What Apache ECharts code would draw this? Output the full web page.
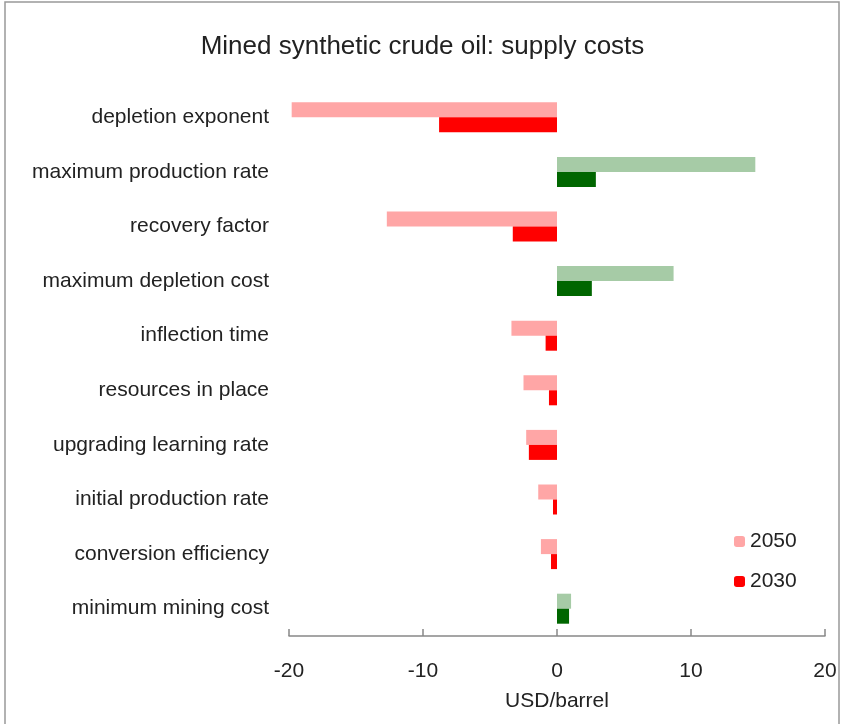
<!DOCTYPE html>
<html>
<head>
<meta charset="utf-8">
<script src="https://cdn.jsdelivr.net/npm/echarts@6/dist/echarts.min.js"></script>
<style>
  html, body { margin: 0; padding: 0; background: #fff; }
  #chart { width: 845px; height: 724px; }
</style>
</head>
<body>
<div id="chart"></div>
<script>
const categories = [
  'depletion exponent',
  'maximum production rate',
  'recovery factor',
  'maximum depletion cost',
  'inflection time',
  'resources in place',
  'upgrading learning rate',
  'initial production rate',
  'conversion efficiency',
  'minimum mining cost'
]
const values2050 = [-19.8, 14.8, -12.7, 8.7, -3.4, -2.5, -2.3, -1.4, -1.2, 1.05]
const values2030 = [-8.8, 2.9, -3.3, 2.6, -0.85, -0.6, -2.1, -0.3, -0.45, 0.9]
const xTicks = [-20, -10, 0, 10, 20]

const colors = {
  neg2050: '#ffa6a6',
  neg2030: '#ff0000',
  pos2050: '#a6cba6',
  pos2030: '#006600',
}

const font = 'Liberation Sans, Arial, sans-serif'

const toData = (vals, neg, pos) => vals.map(v => ({
  value: v,
  itemStyle: { color: v < 0 ? neg : pos },
}))

const chart = echarts.init(document.getElementById('chart'))
chart.setOption({
  animation: false,
  textStyle: { fontFamily: font },
  title: {
    text: 'Mined synthetic crude oil: supply costs',
    left: 'center',
    top: 29,
    textStyle: { fontFamily: font, fontSize: 26, fontWeight: 'normal', color: '#222' },
  },
  graphic: [{
    type: 'rect',
    shape: { x: 5, y: 2, width: 834, height: 730 },
    style: { fill: 'none', stroke: '#999', lineWidth: 1.5 },
  }],
  legend: {
    orient: 'vertical',
    left: 729,
    top: 526,
    itemWidth: 11,
    itemHeight: 11,
    itemGap: 19,
    textStyle: { fontSize: 21, color: '#222', fontFamily: font },
    data: ['2050', '2030'],
  },
  grid: { left: 289, right: 20, top: 90, bottom: 88, containLabel: false },
  xAxis: {
    type: 'value',
    min: xTicks[0],
    max: xTicks[xTicks.length - 1],
    interval: 10,
    name: 'USD/barrel',
    nameLocation: 'middle',
    nameGap: 55,
    nameTextStyle: { fontSize: 21, color: '#222', fontFamily: font },
    splitLine: { show: false },
    axisLine: { show: true, lineStyle: { color: '#888', width: 1.5 } },
    axisTick: { show: true, inside: true, length: 7, lineStyle: { color: '#888', width: 1.5 } },
    axisLabel: { fontSize: 21, color: '#222', margin: 25, fontFamily: font },
  },
  yAxis: {
    type: 'category',
    inverse: true,
    data: categories,
    axisLine: { show: false },
    axisTick: { show: false },
    axisLabel: { fontSize: 21, color: '#222', margin: 20, fontFamily: font },
  },
  series: [
    {
      name: '2050',
      type: 'bar',
      barWidth: 15,
      barGap: '0%',
      color: colors.neg2050,
      data: toData(values2050, colors.neg2050, colors.pos2050),
    },
    {
      name: '2030',
      type: 'bar',
      barWidth: 15,
      color: colors.neg2030,
      data: toData(values2030, colors.neg2030, colors.pos2030),
    },
  ],
})
</script>
</body>
</html>
